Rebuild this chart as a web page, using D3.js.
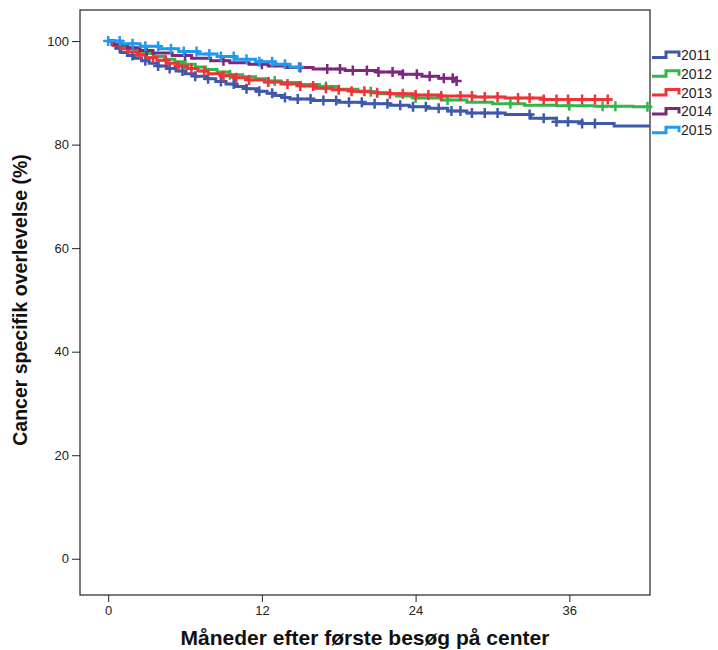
<!DOCTYPE html>
<html>
<head>
<meta charset="utf-8">
<script src="https://cdn.jsdelivr.net/npm/d3@7"></script>
<style>
  body { margin: 0; background: #fff; }
  text { font-family: Arial, "Liberation Sans", sans-serif; }
</style>
</head>
<body>
<script>
// categories
const years = ['2011', '2012', '2013', '2014', '2015'];
const colors = ['#3e58ac', '#2eb848', '#ef3338', '#7c287d', '#1e9bf0'];

// event times (months) and survival (%) after each event
const times2011 = [0, 0.3, 0.6, 1.0, 1.5, 2.0, 2.6, 3.2, 3.9, 4.6, 5.3, 6.0, 6.8, 7.6, 8.4, 9.2, 10.0, 10.8, 11.6, 12.4, 13.0, 13.6, 14.2, 16.0, 18.0, 20.0, 22.0, 23.5, 25.0, 26.5, 28.0, 31.0, 33.0, 35.0, 37.0, 39.5];
const surv2011  = [100, 99.3, 98.6, 97.8, 97.2, 96.7, 96.2, 95.7, 95.2, 94.7, 94.2, 93.7, 93.2, 92.7, 92.2, 91.7, 91.2, 90.8, 90.3, 89.9, 89.5, 89.1, 88.8, 88.5, 88.2, 87.9, 87.6, 87.3, 87.0, 86.5, 86.1, 85.8, 85.1, 84.4, 84.1, 83.6];
const censor2011 = [0.9, 1.9, 2.9, 3.9, 4.8, 5.8, 6.8, 7.8, 8.8, 9.8, 10.8, 11.8, 12.8, 13.8, 14.8, 15.8, 16.8, 17.8, 18.8, 19.8, 20.8, 21.8, 22.8, 23.8, 24.8, 25.8, 26.8, 27.5, 28.4, 29.4, 30.4, 32.9, 34.0, 35.0, 35.9, 37.0, 38.0];

const times2012 = [0, 0.5, 1.2, 2.0, 2.8, 3.6, 4.4, 5.2, 6.0, 6.8, 7.6, 8.5, 9.5, 10.5, 11.5, 12.5, 13.5, 15.0, 16.5, 18.0, 19.5, 21.0, 22.5, 24.0, 26.0, 28.0, 30.0, 32.5, 35.0, 38.0, 41.0];
const surv2012  = [100, 99.4, 98.8, 98.2, 97.6, 97.0, 96.5, 96.0, 95.5, 95.0, 94.5, 94.0, 93.5, 93.1, 92.7, 92.3, 92.0, 91.6, 91.2, 90.7, 90.2, 89.8, 89.4, 89.0, 88.6, 88.2, 87.9, 87.6, 87.5, 87.4, 87.3];
const censor2012 = [3.0, 6.0, 9.5, 13.0, 17.0, 20.5, 24.0, 26.5, 31.4, 36.0, 38.6, 39.6, 42.1];

const times2013 = [0, 0.4, 1.0, 1.6, 2.3, 3.0, 3.8, 4.6, 5.4, 6.2, 7.0, 7.8, 8.8, 9.8, 11.0, 12.2, 13.5, 15.0, 16.2, 17.5, 19.0, 20.5, 22.0, 24.0, 26.0, 28.5, 31.0, 34.0];
const surv2013  = [100, 99.2, 98.5, 97.9, 97.3, 96.8, 96.3, 95.7, 95.2, 94.7, 94.2, 93.7, 93.3, 92.9, 92.5, 92.1, 91.7, 91.3, 90.9, 90.6, 90.3, 90.0, 89.8, 89.6, 89.4, 89.2, 89.0, 88.7];
const censor2013 = [1.5, 2.5, 3.5, 4.5, 5.5, 6.5, 7.5, 9.0, 10.0, 11.0, 12.5, 14.0, 15.0, 16.0, 17.0, 18.0, 19.0, 20.0, 21.0, 22.0, 23.0, 24.0, 25.0, 26.0, 27.5, 28.4, 29.4, 30.4, 32.0, 32.9, 34.0, 35.0, 35.9, 37.0, 38.0, 39.0];

const times2014 = [0, 0.5, 1.5, 2.5, 3.5, 5.0, 6.5, 8.0, 9.5, 11.0, 12.5, 14.0, 16.0, 18.5, 21.0, 23.0, 24.5, 25.8, 27.0];
const surv2014  = [100, 99.3, 98.7, 98.2, 97.7, 97.2, 96.7, 96.2, 95.8, 95.5, 95.2, 94.9, 94.6, 94.3, 94.0, 93.6, 93.2, 92.8, 92.3];
const censor2014 = [3.0, 6.0, 9.0, 12.0, 15.0, 17.1, 18.1, 19.1, 20.2, 21.1, 22.2, 23.0, 24.1, 25.1, 26.2, 26.9, 27.2];

const times2015 = [0, 1.0, 2.5, 4.0, 5.5, 7.0, 8.5, 10.0, 11.5, 13.0, 14.2];
const surv2015  = [100, 99.5, 99.0, 98.5, 98.0, 97.5, 97.0, 96.5, 96.0, 95.5, 95.0];
const censor2015 = [0, 0.9, 1.9, 2.9, 3.9, 4.9, 5.9, 6.9, 7.9, 8.8, 9.8, 10.8, 11.8, 12.8, 13.8, 14.9];

// last follow-up per series
const endTimes = [42.5, 42.5, 39.3, 27.2, 15.0];

// ticks
const xTicks = [0, 12, 24, 36];
const yTicks = [0, 20, 40, 60, 80, 100];

const allTimes = [times2011, times2012, times2013, times2014, times2015];
const allSurv = [surv2011, surv2012, surv2013, surv2014, surv2015];
const allCensor = [censor2011, censor2012, censor2013, censor2014, censor2015];

const series = years.map((year, i) => {
  const steps = allTimes[i].map((t, j) => ({ t: t, s: allSurv[i][j] }));
  steps.push({ t: endTimes[i], s: steps[steps.length - 1].s });
  const survAt = (t) => {
    let s = 100;
    steps.forEach(p => { if (p.t <= t) s = p.s; });
    return s;
  };
  const censored = allCensor[i].map(t => ({ t: t, s: survAt(t) }));
  return { year: year, color: colors[i], steps: steps, censored: censored };
});

const width = 718, height = 650;
const frame = { left: 80, right: 650, top: 10, bottom: 595 };

const svg = d3.select('body').append('svg')
  .attr('width', width)
  .attr('height', height);

const x = d3.scaleLinear().domain([-2.2, 42.3]).range([frame.left, frame.right]);
const y = d3.scaleLinear().domain([-7, 106]).range([frame.bottom, frame.top]);

svg.append('clipPath').attr('id', 'clip')
  .append('rect')
  .attr('x', frame.left).attr('y', frame.top)
  .attr('width', frame.right - frame.left).attr('height', frame.bottom - frame.top);

// axes
const xAxis = svg.append('g')
  .attr('transform', `translate(0,${frame.bottom})`)
  .call(d3.axisBottom(x).tickValues(xTicks).tickSize(7).tickSizeOuter(0).tickPadding(4));
const yAxis = svg.append('g')
  .attr('transform', `translate(${frame.left},0)`)
  .call(d3.axisLeft(y).tickValues(yTicks).tickSize(8).tickSizeOuter(0).tickPadding(3));

[xAxis, yAxis].forEach(ax => {
  ax.select('.domain').remove();
  ax.selectAll('.tick line').attr('stroke', '#222');
  ax.selectAll('.tick text')
    .attr('fill', '#222')
    .style('font-size', '13px')
    .style('font-family', 'Arial, "Liberation Sans", sans-serif');
});

svg.append('rect')
  .attr('x', frame.left).attr('y', frame.top)
  .attr('width', frame.right - frame.left).attr('height', frame.bottom - frame.top)
  .attr('fill', 'none')
  .attr('stroke', '#222')
  .attr('stroke-width', 1.2);

// curves
const line = d3.line()
  .x(d => x(d.t))
  .y(d => y(d.s))
  .curve(d3.curveStepAfter);

const curves = svg.append('g').attr('class', 'curves');

series.forEach(sr => {
  const g = curves.append('g');
  g.append('path')
    .datum(sr.steps)
    .attr('clip-path', 'url(#clip)')
    .attr('d', line)
    .attr('fill', 'none')
    .attr('stroke', sr.color)
    .attr('stroke-width', 3);
  g.selectAll('.censor')
    .data(sr.censored)
    .enter().append('path')
    .attr('class', 'censor')
    .attr('transform', d => `translate(${x(d.t)},${y(d.s)})`)
    .attr('d', 'M-5,0H5M0,-5V5')
    .attr('stroke', sr.color)
    .attr('stroke-width', 2.5);
});

// legend
const legend = svg.append('g').attr('class', 'legend');
series.forEach((sr, i) => {
  const ly = 55 + i * 18.8;
  legend.append('path')
    .attr('d', `M652,${ly + 2.5}H666V${ly - 3}H679V${ly + 2}`)
    .attr('fill', 'none')
    .attr('stroke', sr.color)
    .attr('stroke-width', 3);
  legend.append('text')
    .attr('x', 681)
    .attr('y', ly + 5)
    .style('font-size', '14px')
    .attr('fill', '#222')
    .text(sr.year);
});

// titles
svg.append('text')
  .attr('x', (frame.left + frame.right) / 2)
  .attr('y', 645)
  .attr('text-anchor', 'middle')
  .style('font-size', '21px')
  .style('font-weight', 'bold')
  .attr('fill', '#111')
  .text('Måneder efter første besøg på center');

svg.append('text')
  .attr('transform', `translate(27,300) rotate(-90)`)
  .attr('text-anchor', 'middle')
  .style('font-size', '19.5px')
  .style('font-weight', 'bold')
  .attr('fill', '#111')
  .text('Cancer specifik overlevelse (%)');
</script>
</body>
</html>
